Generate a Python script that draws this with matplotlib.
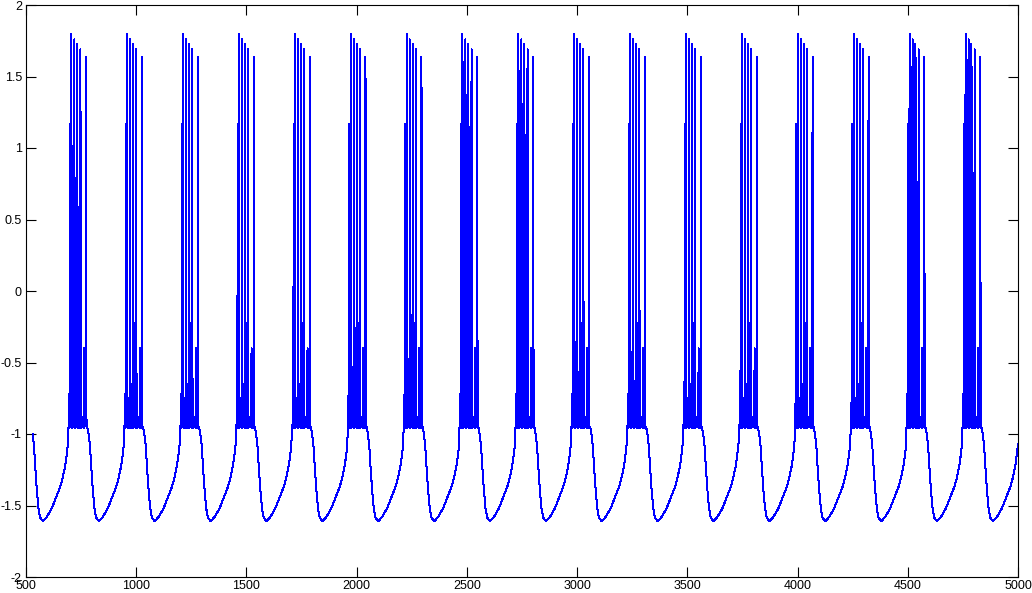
import numpy as np
import matplotlib
matplotlib.use("Agg")
import matplotlib.pyplot as plt

# time of the first full spike of every burst
# (the first one lies before the visible window)
burst_onsets = [452, 706, 959, 1213, 1466, 1720, 1973, 2227, 2480, 2734,
                2987, 3241, 3494, 3748, 4001, 4255, 4508, 4762]

# one burst cycle: time offset from onset and value
shape_dt = [-14,
            -11, -10, -9,
            -7, -6, -5,
            -1, 0, 1.5,
            7, 8, 9,
            12.5, 13.5, 15,
            21, 22, 23,
            26, 27, 28.5,
            33, 34, 35,
            36, 37, 38,
            40, 41, 42.5,
            47, 48, 49,
            56, 57, 58,
            66, 67, 68.5,
            72, 78, 84, 89.5, 97, 104.5, 112, 125, 142.5,
            165, 188, 203, 214, 226, 233, 238]
shape_v = [-0.96,
           -0.93, -0.72, -0.96,
           -0.93, 1.17, -0.95,
           -0.90, 1.80, -0.96,
           -0.90, -0.75, -0.95,
           -0.90, 1.76, -0.96,
           -0.90, -0.65, -0.95,
           -0.90, 1.73, -0.96,
           -0.90, -0.83, -0.95,
           -0.88, -0.22, -0.96,
           -0.90, 1.69, -0.96,
           -0.90, -0.88, -0.95,
           -0.90, -0.40, -0.96,
           -0.90, 1.64, -0.96,
           -0.95, -1.00, -1.08, -1.22, -1.39, -1.52, -1.585, -1.61, -1.58,
           -1.52, -1.43, -1.37, -1.31, -1.22, -1.14, -1.07]

t_start, t_end = 525, 5000

xticks = list(range(500, 5001, 500))
yticks = [-2, -1.5, -1, -0.5, 0, 0.5, 1, 1.5, 2]

t = np.concatenate([np.array(shape_dt) + t0 for t0 in burst_onsets])
v = np.tile(shape_v, len(burst_onsets))
keep = (t >= t_start) & (t <= t_end)
t, v = t[keep], v[keep]

plt.rcParams['font.family'] = ['Liberation Sans', 'DejaVu Sans']
fig = plt.figure(figsize=(10.32, 5.93), dpi=100)
ax = fig.add_axes([26 / 1032, 16 / 593, 992 / 1032, 572 / 593])
ax.plot(t, v, color='#0000ff', lw=0.72, antialiased=False)

ax.set_xlim(500, 5000)
ax.set_ylim(-2, 2)
ax.set_xticks(xticks)
ax.set_yticks(yticks)
ax.set_yticklabels([('%g' % y) for y in yticks])
ax.tick_params(direction='in', length=7, width=0.8, labelsize=9,
               top=True, right=True)
ax.tick_params(axis='x', pad=2.5)
ax.tick_params(axis='y', pad=3)
for s in ax.spines.values():
    s.set_linewidth(0.8)

fig.savefig('out.png', dpi=100)
